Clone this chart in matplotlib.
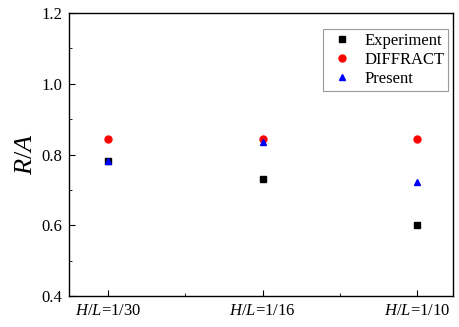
import matplotlib
matplotlib.use("Agg")
import matplotlib.pyplot as plt
from matplotlib.ticker import MultipleLocator, FixedLocator

plt.rcParams['font.family'] = ['Liberation Serif']
plt.rcParams['mathtext.fontset'] = 'custom'
plt.rcParams['mathtext.rm'] = 'Liberation Serif'
plt.rcParams['mathtext.it'] = 'Liberation Serif:italic'

categories = [r'$\it{H}$/$\it{L}$=1/30', r'$\it{H}$/$\it{L}$=1/16', r'$\it{H}$/$\it{L}$=1/10']
experiment = [0.782, 0.731, 0.600]
diffract = [0.845, 0.845, 0.845]
present = [0.782, 0.836, 0.723]

fig = plt.figure(figsize=(4.6, 3.27), dpi=100)
ax = fig.add_axes([0.15, 0.095, 0.835, 0.865])
x = [1, 2, 3]
ax.plot(x, experiment, 's', color='black', markersize=4.5, linestyle='none', label='Experiment')
ax.plot(x, diffract, 'o', color='red', markersize=5, linestyle='none', label='DIFFRACT')
ax.plot(x, present, '^', color='blue', markersize=5, linestyle='none', label='Present')

ax.set_xlim(0.75, 3.23)
ax.set_ylim(0.4, 1.2)
ax.xaxis.set_major_locator(FixedLocator(x))
ax.set_xticklabels(categories)
ax.xaxis.set_minor_locator(FixedLocator([1.5, 2.5]))
ax.yaxis.set_major_locator(MultipleLocator(0.2))
ax.yaxis.set_minor_locator(MultipleLocator(0.1))
ax.yaxis.set_major_formatter(matplotlib.ticker.FormatStrFormatter('%.1f'))
ax.tick_params(which='both', direction='in', labelsize=12, top=False, right=False)
ax.tick_params(which='major', length=4, pad=5)
ax.tick_params(which='minor', length=2.5)
for s in ax.spines.values():
    s.set_linewidth(1.0)
ax.set_ylabel(r'$\it{R}$/$\it{A}$', fontsize=19, labelpad=3)
leg = ax.legend(loc='upper right', fontsize=12, frameon=True, fancybox=False,
                edgecolor='gray', borderpad=0.2, handletextpad=0.4, labelspacing=0.2,
                handlelength=1.9, borderaxespad=0, bbox_to_anchor=(0.987, 0.943))
leg.get_frame().set_linewidth(0.8)
fig.savefig('out.png', dpi=100)
